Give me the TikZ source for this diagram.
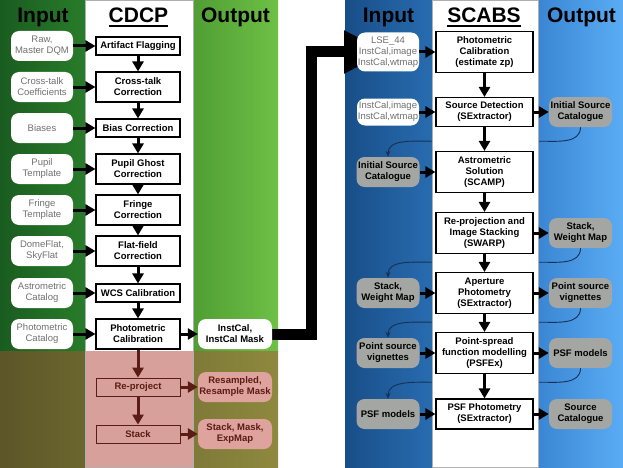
\documentclass[tikz,border=0pt]{standalone}
\usepackage{fontspec}
\setmainfont{Liberation Sans}
\usepackage{tikz}
\usetikzlibrary{arrows.meta,positioning,calc,backgrounds}
\definecolor{ingreenL}{RGB}{26,92,32}
\definecolor{ingreenR}{RGB}{40,124,42}
\definecolor{outgreenL}{RGB}{80,158,52}
\definecolor{outgreenR}{RGB}{110,192,70}
\definecolor{oliveL}{RGB}{92,86,40}
\definecolor{oliveR}{RGB}{142,137,62}
\definecolor{rosepanel}{RGB}{216,160,154}
\definecolor{rosenode}{RGB}{221,163,156}
\definecolor{darkmaroon}{RGB}{92,28,22}
\definecolor{inblueL}{RGB}{24,78,136}
\definecolor{inblueR}{RGB}{40,108,176}
\definecolor{outblueL}{RGB}{58,134,212}
\definecolor{outblueR}{RGB}{90,172,244}
\definecolor{nodegray}{RGB}{163,166,163}
\definecolor{inkgray}{RGB}{112,112,112}
\definecolor{loopnavy}{RGB}{24,48,84}
\definecolor{panelline}{RGB}{175,175,175}
\pgfdeclarelayer{bg}
\pgfdeclarelayer{links}
\pgfdeclarelayer{panel}
\pgfsetlayers{bg,links,panel,main}
\newcommand{\ulhead}[1]{\vtop{\hbox{#1}\kern1.5pt\hrule height 1.8pt}}

\begin{document}
\begin{tikzpicture}[x=1pt,y=1pt,
    head/.style={anchor=base, font=\fontsize{21}{24}\selectfont\bfseries},
    srcbox/.style={rounded corners=8pt, fill=white, text=inkgray, minimum width=62pt,
        minimum height=30pt, inner sep=0.5pt, align=center, font=\fontsize{9.5}{11}\selectfont},
    stepbox/.style={draw=black, line width=1.1pt, fill=white, minimum width=84pt,
        minimum height=18pt, inner sep=1pt, align=center, font=\fontsize{9.5}{11}\selectfont\bfseries},
    tall/.style={minimum height=30pt},
    prodbox/.style={rounded corners=8pt, fill=white, minimum width=74pt, minimum height=30pt,
        inner sep=0.5pt, align=center, font=\fontsize{9.5}{11}\selectfont\bfseries},
    redstep/.style={stepbox, draw=darkmaroon, line width=0.8pt, fill=rosepanel, text=darkmaroon},
    redprod/.style={prodbox, fill=rosenode, text=darkmaroon},
    scabsbox/.style={stepbox, minimum width=97pt, minimum height=41pt},
    catbox/.style={rounded corners=8pt, fill=nodegray, minimum width=63pt, minimum height=30pt,
        inner sep=0.5pt, align=center, font=\fontsize{9.5}{11}\selectfont\bfseries},
    flow/.style={-{Triangle[length=10pt,width=11pt]}, line width=3pt},
    redflow/.style={flow, draw=darkmaroon},
    bigflow/.style={-{Triangle[length=44pt,width=40pt]}, line width=11pt},
    loopback/.style={-{Stealth[length=6pt,width=5pt]}, draw=loopnavy, line width=0.9pt}
]
\useasboundingbox (0,0) rectangle (623,467);

% column panels
\begin{pgfonlayer}{bg}
    \shade[left color=ingreenL, right color=ingreenR] (0,116) rectangle (85,467);
    \shade[left color=outgreenL, right color=outgreenR] (193,116) rectangle (278,467);
    \shade[left color=oliveL, right color=oliveR] (0,0) rectangle (278,116);
    \shade[left color=inblueL, right color=inblueR] (345,0) rectangle (432,467);
    \shade[left color=outblueL, right color=outblueR] (538,0) rectangle (623,467);
\end{pgfonlayer}
\begin{pgfonlayer}{panel}
    \fill[white] (85,116) rectangle (193,467);
    \fill[rosepanel] (85,0) rectangle (193,116);
    \draw[panelline] (85,0) rectangle (193,467);
    \filldraw[fill=white, draw=panelline] (432,0) rectangle (538,467);
\end{pgfonlayer}

\node[head] (inL) at (43,444) {Input};
\node[head] (cdcp) at (138.5,444) {\ulhead{CDCP}};
\node[head] (outL) at (235.5,444) {Output};
\node[head] (inR) at (388.5,444) {Input};
\node[head] (scabs) at (484,444) {\ulhead{SCABS}};
\node[head] (outR) at (581.5,444) {Output};

% CDCP
\node[srcbox] (raw) at (42,421) {Raw,\\Master DQM};
\node[srcbox] (xtalk) at (42,380) {Cross-talk\\Coefficients};
\node[srcbox] (bias) at (42,339) {Biases};
\node[srcbox] (pupil) at (42,298) {Pupil\\Template};
\node[srcbox] (fringe) at (42,257) {Fringe\\Template};
\node[srcbox] (flats) at (42,216) {DomeFlat,\\SkyFlat};
\node[srcbox] (astcat) at (42,174) {Astrometric\\Catalog};
\node[srcbox] (phcat) at (42,133) {Photometric\\Catalog};

\node[stepbox] (flag) at (138,421) {Artifact Flagging};
\node[stepbox, tall] (xcor) at (138,380) {Cross-talk\\Correction};
\node[stepbox] (bcor) at (138,339) {Bias Correction};
\node[stepbox, tall] (pcor) at (138,298) {Pupil Ghost\\Correction};
\node[stepbox, tall] (fcor) at (138,257) {Fringe\\Correction};
\node[stepbox, tall] (ffcor) at (138,216) {Flat-field\\Correction};
\node[stepbox] (wcs) at (138,174) {WCS Calibration};
\node[stepbox, tall] (phcal) at (138,133) {Photometric\\Calibration};
\node[redstep] (reproj) at (138,80) {Re-project};
\node[redstep] (stack) at (138,33) {Stack};

\node[prodbox] (instcal) at (235,133) {InstCal,\\InstCal Mask};
\node[redprod] (resamp) at (235,80) {Resampled,\\Resample Mask};
\node[redprod] (stackmap) at (235,33) {Stack, Mask,\\ExpMap};

\draw[flow] (raw.east) -- (flag.west);
\draw[flow] (xtalk.east) -- (xcor.west);
\draw[flow] (bias.east) -- (bcor.west);
\draw[flow] (pupil.east) -- (pcor.west);
\draw[flow] (fringe.east) -- (fcor.west);
\draw[flow] (flats.east) -- (ffcor.west);
\draw[flow] (astcat.east) -- (wcs.west);
\draw[flow] (phcat.east) -- (phcal.west);
\draw[flow] (flag) -- (xcor);
\draw[flow] (xcor) -- (bcor);
\draw[flow] (bcor) -- (pcor);
\draw[flow] (pcor) -- (fcor);
\draw[flow] (fcor) -- (ffcor);
\draw[flow] (ffcor) -- (wcs);
\draw[flow] (wcs) -- (phcal);
\draw[flow] (phcal.east) -- (instcal.west);
\draw[redflow] (phcal) -- (reproj);
\draw[redflow] (reproj) -- (stack);
\draw[redflow] (reproj.east) -- (resamp.west);
\draw[redflow] (stack.east) -- (stackmap.west);

% SCABS
\node[srcbox, minimum height=39pt] (lse) at (388,415) {LSE\_44\\InstCal,image\\InstCal,wtmap};
\node[srcbox, minimum height=27pt] (imgs) at (388,355) {InstCal,image\\InstCal,wtmap};
\node[catbox] (iscI) at (388,295) {Initial Source\\Catalogue};
\node[catbox] (stackI) at (388,174) {Stack,\\Weight Map};
\node[catbox] (psvI) at (388,114) {Point source\\vignettes};
\node[catbox] (psfI) at (388,53) {PSF models};

\node[scabsbox] (zp) at (484.5,415) {Photometric\\Calibration\\(estimate zp)};
\node[scabsbox, minimum height=29pt] (sex) at (484.5,355) {Source Detection\\(SExtractor)};
\node[scabsbox] (scamp) at (484.5,295) {Astrometric\\Solution\\(SCAMP)};
\node[scabsbox] (swarp) at (484.5,234) {Re-projection and\\Image Stacking\\(SWARP)};
\node[scabsbox] (aper) at (484.5,174) {Aperture\\Photometry\\(SExtractor)};
\node[scabsbox] (psfex) at (484.5,114) {Point-spread\\function modelling\\(PSFEx)};
\node[scabsbox, minimum height=30pt] (psfphot) at (484.5,53) {PSF Photometry\\(SExtractor)};

\node[catbox] (iscO) at (580.5,355) {Initial Source\\Catalogue};
\node[catbox] (stackO) at (580.5,234) {Stack,\\Weight Map};
\node[catbox] (psvO) at (580.5,174) {Point source\\vignettes};
\node[catbox] (psfO) at (580.5,114) {PSF models};
\node[catbox] (srcO) at (580.5,53) {Source\\Catalogue};

\draw[flow] (lse.east) -- (zp.west);
\draw[flow] (imgs.east) -- (sex.west);
\draw[flow] (iscI.east) -- (scamp.west);
\draw[flow] (stackI.east) -- (aper.west);
\draw[flow] (psvI.east) -- (psfex.west);
\draw[flow] (psfI.east) -- (psfphot.west);
\draw[flow] (zp) -- (sex);
\draw[flow] (sex) -- (scamp);
\draw[flow] (scamp) -- (swarp);
\draw[flow] (swarp) -- (aper);
\draw[flow] (aper) -- (psfex);
\draw[flow] (psfex) -- (psfphot);
\draw[flow] (sex.east) -- (iscO.west);
\draw[flow] (swarp.east) -- (stackO.west);
\draw[flow] (aper.east) -- (psvO.west);
\draw[flow] (psfex.east) -- (psfO.west);
\draw[flow] (psfphot.east) -- (srcO.west);

% links that pass under the panels
\begin{pgfonlayer}{links}
    \draw[bigflow] (instcal.east) -- ++(39,0) |- (lse.center);
    \draw[loopback] (iscO.south) to[out=-90,in=0] ++(-40,-14) -- ++(-110,0) to[out=180,in=90] (iscI.north);
    \draw[loopback] (stackO.south) to[out=-90,in=0] ++(-40,-14) -- ++(-110,0) to[out=180,in=90] (stackI.north);
    \draw[loopback] (psvO.south) to[out=-90,in=0] ++(-40,-14) -- ++(-110,0) to[out=180,in=90] (psvI.north);
    \draw[loopback] (psfO.south) to[out=-90,in=0] ++(-40,-14) -- ++(-110,0) to[out=180,in=90] (psfI.north);
\end{pgfonlayer}
\end{tikzpicture}
\end{document}
